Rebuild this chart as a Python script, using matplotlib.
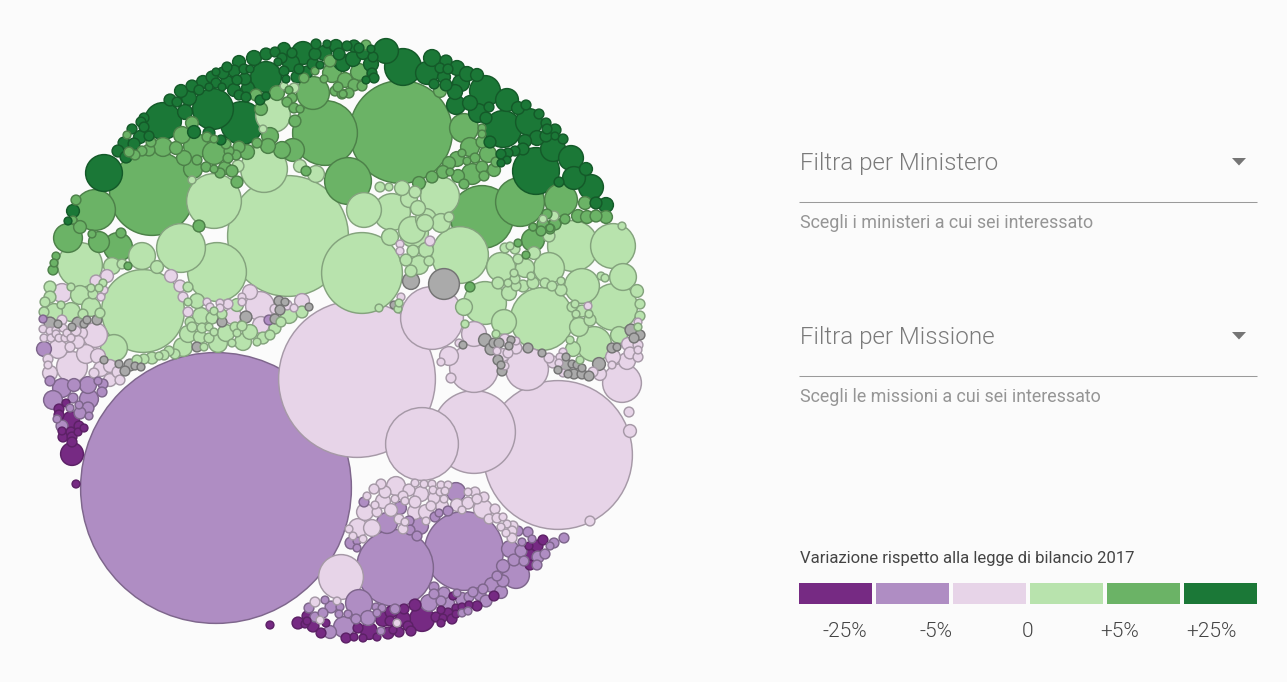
import matplotlib
matplotlib.use("Agg")
import matplotlib.pyplot as plt
from matplotlib.patches import Circle, Rectangle, Polygon

# Bubbles: (x, y, radius), one list per colour class
minus25 = [(422,619,12),(415,605,5),(404,609,4),(403,619,7),(391,612,5),(383,619,7),(390,621,4),(369,631,8),(358,628,4),
 (354,637,3),(346,638,4),(363,638,3),(377,637,3),(388,633,5),(393,630,3),(399,632,4),(408,626,4),(411,631,4),(298,623,5),
 (305,624,3),(307,616,4),(307,621,3),(313,626,5),(321,633,4),(326,623,3),(436,617,4),(443,618,3),(441,623,3),(441,610,3),
 (448,613,4),(452,619,4),(456,608,3),(456,614,3),(462,607,3),(469,605,3),(477,606,4),(453,596,3),(494,596,4),(543,540,4),
 (537,546,5),(529,546,3),(530,555,5),(530,565,4),(270,625,3),(59,409,4),(59,415,4),(66,403,3),(71,420,8),(62,431,3),
 (63,437,4),(71,432,4),(72,437,4),(72,442,4),(79,426,4),(78,432,3),(84,428,3),(72,454,11),(76,484,3)]
minus5 = [(216,488,135),(395,568,38),(464,551,39),(359,603,13),(368,618,7),(344,627,10),(330,632,6),(331,607,5),(325,600,3),
 (309,608,4),(315,617,4),(323,613,4),(340,607,3),(339,614,3),(348,614,3),(356,619,4),(376,607,3),(382,608,3),(377,613,3),
 (395,609,4),(381,631,3),(429,603,8),(441,601,4),(434,587,4),(434,594,4),(444,593,5),(448,603,6),(457,593,3),(462,599,6),
 (469,597,4),(473,592,4),(480,595,5),(483,589,4),(486,601,5),(492,585,7),(501,592,6),(497,576,4),(503,581,5),(503,566,6),
 (516,575,13),(514,560,5),(510,549,8),(521,551,5),(524,561,4),(537,565,4),(538,557,5),(545,554,4),(550,546,3),(554,543,4),
 (564,538,4),(518,531,4),(528,532,4),(522,542,3),(532,539,3),(456,492,9),(400,508,6),(364,502,4),(387,523,10),(409,521,4),
 (420,526,8),(410,530,4),(417,536,4),(435,517,4),(439,513,3),(448,511,4),(351,543,5),(357,541,3),(357,548,3),(462,613,3),
 (468,611,3),(44,349,7),(269,320,4),(43,319,3),(50,381,4),(62,388,9),(74,385,6),(88,385,8),(98,381,3),(103,384,4),
 (102,392,4),(53,400,9),(70,408,3),(57,419,3),(62,426,5),(73,398,4),(79,405,3),(89,399,9),(88,408,5),(80,413,5),(89,416,3)]
zero = [(357,379,78),(558,455,74),(474,432,41),(422,444,36),(432,318,31),(341,577,22),(474,368,24),(527,369,21),(474,334,12),
 (449,356,9),(441,362,3),(451,378,4),(459,343,3),(622,383,19),(613,357,7),(627,361,8),(628,344,6),(630,353,5),(638,345,4),
 (638,350,3),(638,357,4),(612,365,3),(600,374,6),(593,372,4),(516,348,5),(508,353,4),(505,340,5),(516,341,3),(497,351,3),
 (503,355,6),(505,366,3),(549,358,4),(563,352,3),(560,357,3),(553,362,5),(559,363,3),(563,373,3),(588,306,3),(430,241,4),
 (400,244,3),(400,251,3),(401,297,3),(638,322,3),(630,431,6),(629,412,4),(590,521,4),(107,276,6),(96,281,5),(62,293,9),
 (104,290,3),(101,297,3),(62,320,4),(43,329,3),(50,331,3),(56,330,3),(63,328,3),(44,338,3),(51,338,3),(56,334,3),(59,338,3),
 (65,338,3),(67,333,3),(71,338,3),(76,331,4),(81,333,6),(95,335,12),(78,342,6),(70,347,4),(58,349,9),(86,354,9),(98,356,7),
 (72,367,15),(48,359,4),(48,365,3),(50,373,7),(101,369,7),(110,366,6),(94,373,4),(118,372,5),(110,380,6),(120,380,4),
 (171,276,6),(180,286,5),(183,297,4),(188,312,4),(207,302,3),(210,307,3),(220,303,3),(220,308,3),(228,304,4),(233,316,8),
 (250,292,7),(242,297,3),(242,302,3),(260,306,14),(261,325,8),(275,309,4),(287,305,4),(294,308,3),(302,301,7),(396,486,9),
 (381,484,4),(374,489,4),(385,492,5),(367,496,3),(383,501,7),(375,505,3),(365,512,8),(377,512,4),(391,510,6),(403,496,4),
 (395,499,3),(405,501,3),(409,490,5),(415,483,3),(424,484,3),(432,484,3),(421,494,7),(441,485,3),(448,485,3),(433,490,3),
 (440,492,3),(445,491,3),(434,498,5),(444,499,3),(442,506,6),(431,506,4),(415,502,5),(415,512,7),(426,512,7),(399,519,4),
 (405,522,3),(426,521,3),(403,529,4),(468,492,3),(475,492,4),(484,497,4),(477,499,4),(468,503,5),(457,505,6),(462,510,3),
 (483,509,9),(495,509,4),(489,519,4),(497,518,4),(503,517,3),(507,524,3),(513,526,4),(501,527,3),(506,533,3),(512,531,4),
 (512,538,4),(358,528,9),(372,528,8),(349,529,3),(353,536,3),(363,539,3),(315,602,4),(337,601,3),(320,620,3),(397,623,3)]
neutral = [(444,284,15),(411,281,8),(50,323,5),(58,324,3),(72,327,3),(78,323,5),(84,324,3),(87,320,3),(97,320,4),(104,360,3),
 (119,364,3),(130,365,5),(135,366,3),(141,367,3),(125,371,4),(197,347,4),(222,322,4),(246,317,5),(275,319,4),(279,301,4),
 (285,302,3),(280,310,4),(309,307,3),(394,305,3),(485,340,6),(494,343,4),(499,343,4),(463,345,3),(491,349,5),(511,340,3),
 (509,346,3),(498,360,4),(501,365,3),(502,371,4),(528,348,4),(542,353,3),(566,357,3),(566,365,5),(572,364,3),(577,365,3),
 (582,368,3),(558,370,3),(568,374,3),(574,374,4),(582,374,4),(589,376,4),(599,364,6),(612,348,4),(617,347,3),(631,330,5),
 (640,335,4),(634,338,4)]
plus5 = [(288,236,60),(362,273,40),(143,311,41),(214,201,27),(264,169,23),(273,115,17),(300,166,6),(316,174,8),(238,166,5),
 (192,180,3),(284,86,3),(294,88,4),(263,129,3),(364,210,17),(392,212,18),(402,188,7),(380,187,4),(389,187,3),(409,199,8),
 (415,192,5),(418,208,7),(440,196,19),(426,219,10),(412,230,13),(441,223,9),(449,217,4),(554,216,4),(543,219,3),(142,256,13),
 (181,248,24),(217,272,29),(80,265,22),(112,266,8),(157,267,6),(122,264,4),(114,348,13),(50,287,5),(71,287,3),(80,295,9),
 (50,297,5),(45,302,4),(91,288,3),(103,283,3),(99,288,3),(93,294,4),(91,307,9),(61,305,3),(54,312,8),(71,312,9),(44,312,4),
 (100,313,4),(83,314,4),(188,287,4),(197,301,7),(188,302,3),(201,316,8),(212,318,5),(214,311,3),(222,314,4),(237,305,6),
 (190,322,4),(192,327,4),(188,334,8),(202,328,4),(209,327,3),(200,337,6),(214,332,3),(209,338,4),(226,333,8),(235,327,4),
 (242,326,4),(250,332,7),(237,333,3),(243,342,8),(218,343,9),(232,343,3),(183,347,9),(175,354,4),(169,351,4),(164,355,4),
 (159,356,3),(152,358,5),(144,359,4),(137,360,4),(204,347,3),(257,342,3),(263,338,5),(270,335,4),(275,328,5),(281,322,4),
 (289,315,8),(302,312,5),(390,237,8),(414,233,14),(460,255,28),(425,223,8),(413,251,5),(426,250,7),(406,260,5),(419,265,9),
 (429,261,4),(411,271,5),(501,267,14),(525,268,9),(549,268,15),(485,303,21),(464,307,8),(504,322,12),(498,283,5),(509,293,7),
 (508,283,3),(516,286,4),(515,279,4),(514,273,3),(523,286,5),(533,283,5),(531,276,3),(518,259,4),(505,248,4),(510,246,3),
 (515,249,4),(534,253,6),(542,319,31),(545,283,4),(552,286,4),(561,281,3),(561,290,5),(582,286,17),(573,246,25),(613,246,22),
 (623,277,13),(614,307,23),(637,291,6),(640,304,4),(640,316,4),(622,226,3),(601,276,3),(605,278,3),(572,307,4),(575,304,3),
 (582,311,5),(576,314,3),(589,314,3),(590,320,5),(579,327,9),(594,344,17),(619,335,8),(570,340,3),(573,349,7),(580,360,3),
 (549,236,5),(496,334,3),(398,309,3),(399,303,3),(379,308,3),(465,324,3),(638,327,3)]
plus25mid = [(401,132,51),(325,133,32),(152,193,42),(348,181,23),(482,217,31),(520,202,24),(561,200,16),(464,128,14),(470,147,9),
 (488,154,8),(457,159,7),(449,163,6),(462,153,3),(475,158,4),(467,161,3),(482,167,5),(494,170,6),(472,174,10),(484,176,4),
 (458,176,6),(450,172,3),(443,172,6),(432,177,5),(419,183,6),(464,184,4),(482,142,5),(482,128,3),(482,134,3),(496,162,4),
 (585,203,6),(578,216,6),(587,217,6),(596,216,5),(606,217,6),(565,219,4),(555,223,5),(547,214,4),(543,224,5),(550,228,3),
 (533,227,3),(366,45,4),(359,72,8),(345,80,7),(354,85,5),(362,86,4),(343,94,3),(349,93,4),(440,91,6),(313,93,16),(332,73,9),
 (330,61,5),(324,79,3),(315,71,3),(304,78,4),(277,93,7),(289,90,3),(292,98,4),(287,102,4),(294,108,4),(300,109,3),(295,121,5),
 (293,150,11),(282,150,8),(268,146,7),(270,136,8),(261,109,6),(256,95,5),(257,143,4),(247,152,7),(239,147,5),(236,155,4),
 (229,151,4),(226,144,4),(228,158,4),(214,153,11),(196,146,12),(182,135,8),(192,123,6),(207,137,4),(214,139,3),(176,148,6),
 (163,147,9),(151,142,4),(149,150,5),(142,151,4),(135,155,4),(129,152,4),(127,135,3),(184,158,7),(197,160,4),(193,169,9),
 (206,167,4),(214,169,3),(225,168,6),(232,171,5),(220,173,4),(237,182,5),(306,171,4),(335,91,4),(342,94,4),(338,87,4),
 (95,210,20),(76,200,4),(73,220,3),(80,227,6),(68,238,14),(99,242,10),(118,247,14),(92,234,3),(121,233,4),(128,266,3),
 (199,226,5),(56,256,3),(54,263,3),(53,270,4),(533,240,11),(518,243,3),(526,255,3),(550,229,4),(541,231,4),(533,227,3),
 (470,287,4),(555,224,5)]
plus25 = [(104,173,18),(163,121,18),(213,109,20),(242,123,21),(266,77,15),(303,53,11),(254,58,7),(239,62,6),(266,54,5),(275,52,4),
 (284,49,6),(292,53,4),(291,63,8),(282,58,4),(278,62,3),(284,71,4),(286,79,3),(299,69,4),(297,77,5),(307,72,5),(313,64,5),
 (315,54,5),(320,65,3),(316,44,4),(324,53,7),(327,44,3),(336,46,6),(339,54,5),(343,64,7),(347,46,4),(227,67,4),(234,71,5),
 (244,69,4),(250,69,3),(245,79,5),(237,80,4),(227,82,6),(223,73,5),(216,72,3),(212,77,5),(203,82,6),(216,83,4),(222,87,3),
 (209,87,3),(234,90,6),(248,88,6),(239,95,4),(246,97,4),(192,86,5),(199,90,4),(181,91,6),(189,98,7),(170,100,5),(177,102,4),
 (185,112,7),(144,118,4),(141,122,4),(144,127,4),(132,129,4),(140,137,6),(149,136,4),(124,143,5),(134,144,5),(118,151,5),
 (126,157,5),(194,132,6),(209,133,5),(221,140,4),(260,100,4),(266,96,3),(73,211,6),(68,221,3),(386,51,12),(403,67,18),
 (432,58,8),(427,73,11),(446,61,5),(440,68,4),(448,69,4),(444,77,6),(457,68,7),(467,74,7),(477,75,6),(461,83,8),(455,92,7),
 (446,85,5),(434,84,4),(456,105,9),(470,103,7),(485,91,15),(478,113,9),(489,107,4),(486,118,5),(507,100,11),(518,108,6),
 (526,105,4),(529,122,13),(503,129,18),(539,114,4),(546,123,4),(547,129,4),(555,130,5),(555,136,3),(546,136,5),(563,139,4),
 (537,138,7),(525,141,6),(553,149,12),(571,158,12),(523,149,5),(515,151,4),(508,153,4),(501,154,4),(507,160,3),(501,163,3),
 (490,142,5),(536,171,23),(574,178,11),(586,169,6),(591,187,12),(559,182,4),(596,203,5),(606,205,7),(354,46,5),(359,48,4),
 (371,49,3),(353,59,7),(363,53,6),(371,64,7),(373,57,4),(372,73,4),(374,78,4),(366,80,3),(342,62,8)]

legend_title = "Variazione rispetto alla legge di bilancio 2017"
legend_labels = ["-25%", "-5%", "0", "+5%", "+25%"]
legend_colors = ["#762a83", "#af8dc3", "#e7d4e8", "#b8e3ad", "#6bb366", "#1b7837"]
filters = [("Filtra per Ministero", "Scegli i ministeri a cui sei interessato"),
           ("Filtra per Missione", "Scegli le missioni a cui sei interessato")]

BG = "#fbfbfb"
plt.rcParams["font.family"] = ["Roboto", "DejaVu Sans"]
fig = plt.figure(figsize=(12.87, 6.82), dpi=100, facecolor=BG)
ax = fig.add_axes([0, 0, 1, 1])
ax.set_xlim(0, 1287)
ax.set_ylim(682, 0)
ax.set_aspect("equal")
ax.axis("off")

def darken(hex_color, f):
    r, g, b = matplotlib.colors.to_rgb(hex_color)
    return (r * f, g * f, b * f)

groups = [(minus25, "#762a83", 0.78), (minus5, "#af8dc3", 0.72), (zero, "#e7d4e8", 0.72), (neutral, "#aaaaaa", 0.68),
          (plus5, "#b8e3ad", 0.72), (plus25mid, "#6bb366", 0.72), (plus25, "#1b7837", 0.75)]
bubbles = [(x, y, r, c, f) for pts, c, f in groups for x, y, r in pts]
bubbles.sort(key=lambda b: -b[2])
for x, y, r, c, f in bubbles:
    pad = 0.9 if r <= 5 else 0.4
    ax.add_patch(Circle((x, y), r + pad, facecolor=c, edgecolor=darken(c, f), linewidth=1.05))

# Filter controls on the right
for (title, sub), ty, ly, sy in zip(filters, (162, 336), (202, 376), (223, 397)):
    ax.text(799.5, ty + 1.5, title, fontsize=17.4, color="#7a7a7a", va="center", ha="left", fontweight=300)
    ax.plot([799, 1257], [ly, ly], color="#9a9a9a", lw=0.75, solid_capstyle="butt")
    ax.text(799.5, sy, sub, fontsize=12.85, color="#959595", va="center", ha="left")
    ax.add_patch(Polygon([(1232, ty - 4), (1246, ty - 4), (1239, ty + 3.5)], closed=True, facecolor="#757575", edgecolor="none"))

# Colour legend
ax.text(799.5, 559, legend_title, fontsize=12.0, color="#444444", va="center", ha="left")
for i, c in enumerate(legend_colors):
    ax.add_patch(Rectangle((799 + 77 * i, 583), 73, 21, facecolor=c, edgecolor="none"))
for i, lab in enumerate(legend_labels):
    ax.text(845 + 91.5 * i, 631.5, lab, fontsize=15, color="#444444", va="center", ha="center", fontweight=300)

fig.savefig("out.png", dpi=100, facecolor=BG)
